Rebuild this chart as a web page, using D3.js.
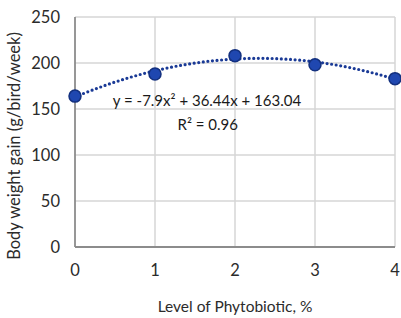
<!DOCTYPE html>
<meta charset="utf-8">
<html>
<head>
    <style>
        body { margin: 0; background: #fff; }
        text { font-family: Lato, "Open Sans", sans-serif; fill: #2b2b2b; }
        .grid line { stroke: #d6d6d6; stroke-width: 1.5px; }
        .axis-line { stroke: #8c8c8c; stroke-width: 1.8px; }
        .trend { fill: none; stroke: #1a3a96; stroke-width: 3.2px; stroke-dasharray: 0 4.6; stroke-linecap: round; }
        .dot { fill: #1f47b0; stroke: #13307f; stroke-width: 1.5px; }
    </style>
    <script src="https://d3js.org/d3.v7.min.js"></script>
</head>
<body>
<svg id="svg" width="401" height="318"></svg>
<script>

    // data
    var levels = [0, 1, 2, 3, 4];
    var gains = [164, 188, 208, 198, 183];
    var yTicks = [0, 50, 100, 150, 200, 250];
    // trendline printed on the chart: y = a x^2 + b x + c
    var trendCoef = [-7.9, 36.44, 163.04];
    var equationLabel = "y = -7.9x\u00B2 + 36.44x + 163.04";
    var r2Label = "R\u00B2 = 0.96";

    var svg = d3.select("svg");
    var margin = {top: 17, right: 6, bottom: 71, left: 75};
    var width = 401 - margin.left - margin.right,
        height = 318 - margin.top - margin.bottom;

    var g = svg.append("g").attr("transform", "translate(" + margin.left + "," + margin.top + ")");

    var x = d3.scaleLinear().domain([0, 4]).range([0, width]);
    var y = d3.scaleLinear().domain([0, 250]).range([height, 0]);

    // grid
    var grid = g.append("g").attr("class", "grid");
    grid.selectAll(".hl").data(yTicks.slice(1)).enter().append("line")
        .attr("x1", 0).attr("x2", width)
        .attr("y1", function (d) { return y(d); })
        .attr("y2", function (d) { return y(d); });
    grid.selectAll(".vl").data(levels.slice(1)).enter().append("line")
        .attr("y1", 0).attr("y2", height)
        .attr("x1", function (d) { return x(d); })
        .attr("x2", function (d) { return x(d); });

    g.append("line").attr("class", "axis-line")
        .attr("x1", 0).attr("x2", 0).attr("y1", 0).attr("y2", height);
    g.append("line").attr("class", "axis-line")
        .attr("x1", 0).attr("x2", width).attr("y1", height).attr("y2", height);

    // tick labels
    g.selectAll(".ytick").data(yTicks).enter().append("text")
        .attr("x", -15)
        .attr("y", function (d) { return y(d); })
        .attr("dy", "0.35em")
        .attr("text-anchor", "end")
        .style("font-size", "16.5px")
        .text(function (d) { return d; });

    g.selectAll(".xtick").data(levels).enter().append("text")
        .attr("x", function (d) { return x(d); })
        .attr("y", height + 23)
        .attr("dy", "0.35em")
        .attr("text-anchor", "middle")
        .style("font-size", "16.5px")
        .text(function (d) { return d; });

    // axis titles
    svg.append("text")
        .attr("x", margin.left + x(2))
        .attr("y", 312)
        .attr("text-anchor", "middle")
        .style("font-size", "15.5px")
        .text("Level of Phytobiotic, %");

    svg.append("text")
        .attr("transform", "translate(20,146) rotate(-90)")
        .attr("text-anchor", "middle")
        .style("font-size", "16.5px")
        .text("Body weight gain (g/bird/week)");

    // trendline
    function poly(v) { return trendCoef[0] * v * v + trendCoef[1] * v + trendCoef[2]; }
    var line = d3.line()
        .x(function (d) { return x(d); })
        .y(function (d) { return y(poly(d)); })
        .curve(d3.curveMonotoneX);
    g.append("path").attr("class", "trend")
        .attr("d", line(d3.range(0, 4.001, 0.05)));

    // points
    g.selectAll(".dot").data(levels).enter().append("circle")
        .attr("class", "dot")
        .attr("cx", function (d) { return x(d); })
        .attr("cy", function (d, i) { return y(gains[i]); })
        .attr("r", 6);

    // equation
    g.append("text")
        .attr("x", x(1.65))
        .attr("y", y(150) - 3)
        .attr("text-anchor", "middle")
        .style("font-size", "15px")
        .style("fill", "#1a1a1a")
        .text(equationLabel);
    g.append("text")
        .attr("x", x(1.66))
        .attr("y", y(150) + 21)
        .attr("text-anchor", "middle")
        .style("font-size", "15px")
        .style("fill", "#1a1a1a")
        .text(r2Label);

</script>
</body>
</html>
